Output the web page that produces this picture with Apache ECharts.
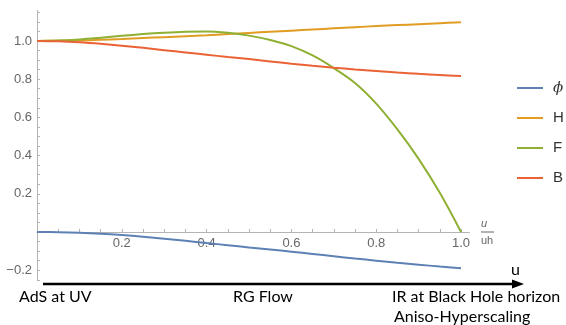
<!DOCTYPE html>
<html>
<head>
<meta charset="utf-8">
<script src="https://cdn.jsdelivr.net/npm/echarts@6/dist/echarts.min.js"></script>
<style>html,body{margin:0;padding:0;background:#fff}#c{width:566px;height:325px}</style>
</head>
<body>
<div id="c"></div>
<script>
const uValues = [0,0.05,0.1,0.15,0.2,0.25,0.3,0.35,0.4,0.45,0.5,0.55,0.6,0.65,0.7,0.75,0.8,0.85,0.9,0.95,1.0];
const phiValues = [0,-0.001,-0.004,-0.009,-0.016,-0.025,-0.035,-0.046,-0.058,-0.069,-0.081,-0.092,-0.103,-0.115,-0.127,-0.139,-0.150,-0.161,-0.171,-0.181,-0.190];
const hValues = [1.000,1.001,1.003,1.006,1.010,1.015,1.020,1.025,1.030,1.036,1.042,1.048,1.054,1.060,1.066,1.072,1.078,1.083,1.088,1.093,1.098];
const fValues = [1.000,1.002,1.008,1.017,1.027,1.036,1.043,1.048,1.050,1.043,1.028,1.005,0.973,0.924,0.858,0.780,0.672,0.537,0.383,0.205,0.000];
const bValues = [1.000,0.998,0.993,0.985,0.975,0.964,0.952,0.940,0.928,0.916,0.905,0.893,0.881,0.870,0.860,0.851,0.843,0.835,0.828,0.822,0.816];
const seriesNames = ['ϕ','H','F','B'];
const seriesColors = ['#5E81B5','#E19C24','#8FB032','#EB6235'];
const seriesValues = [phiValues,hValues,fValues,bValues];

function fmt(v){
  const k = v/0.2;
  if (Math.abs(k-Math.round(k))>1e-6 || Math.abs(v)<1e-9) return '';
  return v.toFixed(1).replace('-','−');
}
const Y_MIN = -0.25, Y_MAX = 1.16, G_TOP = 10.4, G_BOTTOM = 45.25, H = 325;
const plotH = H - G_TOP - G_BOTTOM;
const zeroOffset = -plotH * (0 - Y_MIN) / (Y_MAX - Y_MIN);
const chart = echarts.init(document.getElementById('c'));
chart.setOption({
  animation:false,
  grid:{left:37,right:96.5,top:G_TOP,bottom:G_BOTTOM},
  xAxis:{type:'value',min:0,max:1.02,interval:0.05,offset:zeroOffset,
    axisLine:{onZero:false,lineStyle:{color:'#b4b4b4',width:1}},
    axisTick:{inside:true,length:3,lineStyle:{color:'#b4b4b4'}},
    splitLine:{show:false},
    axisLabel:{formatter:fmt,margin:5,color:'#666',fontFamily:'Liberation Sans',fontSize:13,showMaxLabel:false}},
  yAxis:{type:'value',min:Y_MIN,max:Y_MAX,interval:0.05,
    axisLine:{show:true,onZero:false,lineStyle:{color:'#b4b4b4',width:1}},
    axisTick:{show:true,inside:true,length:3,lineStyle:{color:'#b4b4b4'}},
    splitLine:{show:false},
    axisLabel:{formatter:fmt,margin:5,color:'#666',fontFamily:'Liberation Sans',fontSize:13,showMaxLabel:false}},
  legend:{orient:'vertical',left:517,top:78,padding:0,itemWidth:26,itemHeight:2,icon:'rect',itemGap:10,
    data:seriesNames,
    formatter:function(n){return n==='ϕ'?'{i|ϕ}':n;},
    textStyle:{fontFamily:'Liberation Sans',fontSize:15,color:'#333',lineHeight:20,padding:[0,0,0,5],
      rich:{i:{fontStyle:'italic',fontFamily:'DejaVu Serif',fontSize:15,color:'#333'}}}},
  series:seriesNames.map((n,i)=>({
    name:n,type:'line',smooth:0.35,symbol:'none',
    itemStyle:{color:seriesColors[i]},
    lineStyle:{color:seriesColors[i],width:2},
    data:uValues.map((u,j)=>[u,seriesValues[i][j]])
  })),
  graphic:[
    {type:'text',left:481,top:218,style:{text:'u',fontStyle:'italic',fontFamily:'Liberation Sans',fontSize:11,fill:'#666'}},
    {type:'line',shape:{x1:481,y1:232,x2:494,y2:232},style:{stroke:'#666',lineWidth:1}},
    {type:'text',left:481,top:235,style:{text:'uh',fontFamily:'Liberation Sans',fontSize:11,fill:'#666'}},
    {type:'line',shape:{x1:43,y1:284,x2:514,y2:284},style:{stroke:'#000',lineWidth:2.5}},
    {type:'polygon',shape:{points:[[512,279.5],[524,284],[512,288.5]]},style:{fill:'#000'}},
    {type:'text',left:511,top:262,style:{text:'u',fontFamily:'Lato',fontSize:16,fill:'#000'}},
    {type:'text',left:19,top:289,style:{text:'AdS at UV',fontFamily:'Lato',fontSize:16,fill:'#000'}},
    {type:'text',left:233,top:289,style:{text:'RG Flow',fontFamily:'Lato',fontSize:16,fill:'#000'}},
    {type:'text',left:392,top:289,style:{text:'IR at Black Hole horizon',fontFamily:'Lato',fontSize:16,fill:'#000'}},
    {type:'text',left:394,top:309,style:{text:'Aniso-Hyperscaling',fontFamily:'Lato',fontSize:16,fill:'#000'}}
  ]
});
</script>
</body>
</html>
